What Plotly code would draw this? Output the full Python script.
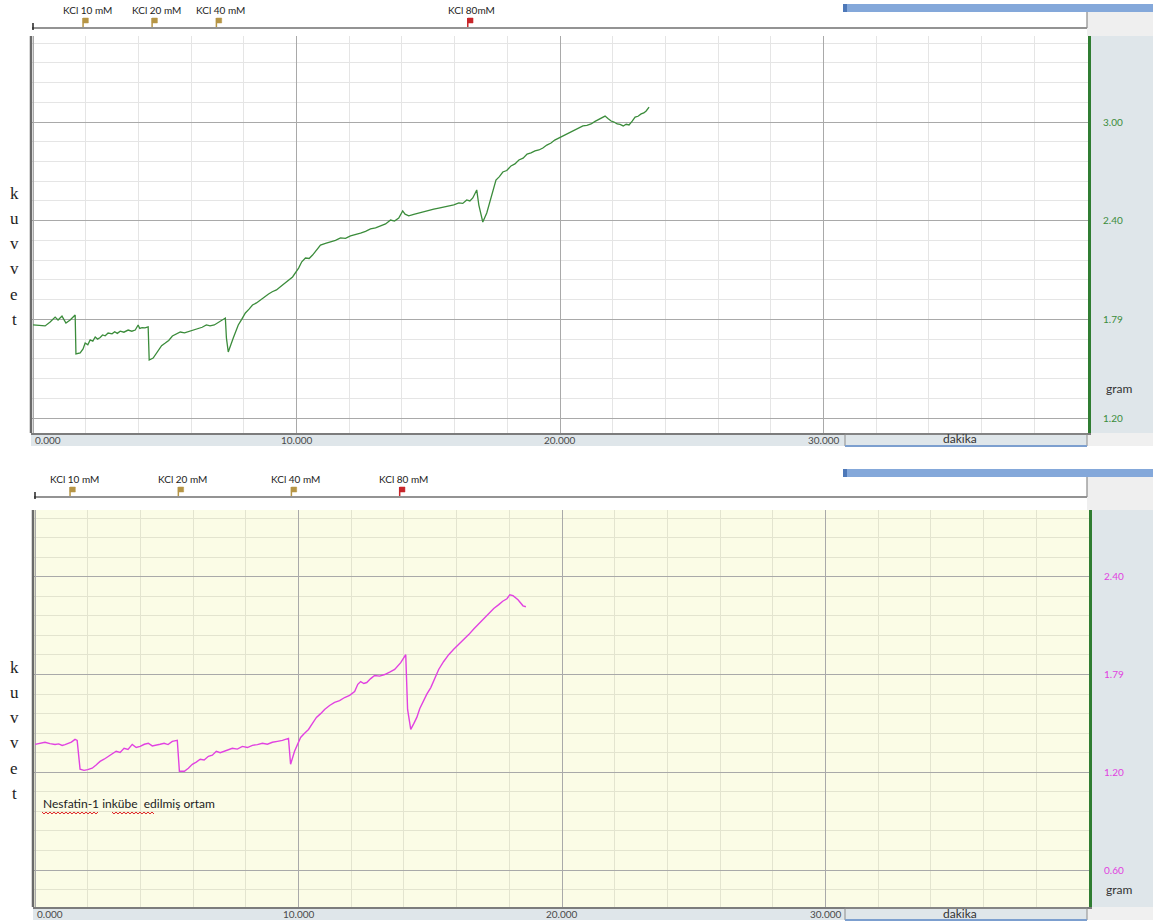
import plotly.graph_objects as go

W, H = 1153, 924


def px(x):
    return x / W


def py(y):
    return 1 - y / H


# ---------------- data ----------------
top_t = [0.00, 0.27, 0.46, 0.65, 0.84, 0.95, 1.10, 1.25, 1.41, 1.60, 1.63, 1.79, 1.90, 1.98, 2.08, 2.17,
         2.27, 2.36, 2.45, 2.55, 2.64, 2.74, 2.85, 3.00, 3.10, 3.20, 3.31, 3.45, 3.61, 3.75, 3.88, 3.99,
         4.05, 4.14, 4.25, 4.37, 4.41, 4.56, 4.66, 4.75, 4.88, 5.02, 5.15, 5.29, 5.42, 5.59, 5.75, 5.97,
         6.10, 6.27, 6.42, 6.58, 6.72, 6.88, 7.00, 7.11, 7.22, 7.30, 7.34, 7.41, 7.60, 7.79, 7.92, 8.06,
         8.20, 8.33, 8.48, 8.63, 8.78, 8.94, 9.08, 9.24, 9.40, 9.58, 9.72, 9.85, 10.08, 10.20, 10.34, 10.48,
         10.61, 10.76, 10.91, 11.10, 11.29, 11.48, 11.67, 11.86, 12.05, 12.24, 12.43, 12.62, 12.81, 13.00,
         13.19, 13.38, 13.57, 13.72, 13.88, 14.03, 14.12, 14.26, 14.45, 14.64, 14.83, 15.02, 15.21, 15.40,
         15.59, 15.78, 15.97, 16.16, 16.31, 16.46, 16.58, 16.69, 16.84, 16.92, 17.07, 17.22, 17.38, 17.48,
         17.57, 17.70, 17.83, 17.98, 18.14, 18.29, 18.44, 18.60, 18.75, 18.90, 19.05, 19.20, 19.35, 19.50,
         19.66, 19.80, 19.96, 20.12, 20.27, 20.42, 20.57, 20.72, 20.87, 21.02, 21.18, 21.33, 21.48, 21.60,
         21.71, 21.83, 21.94, 22.05, 22.17, 22.28, 22.40, 22.51, 22.62, 22.74, 22.85, 22.96, 23.08, 23.18,
         23.27, 23.38]
top_v = [1.766, 1.760, 1.760, 1.784, 1.814, 1.796, 1.820, 1.778, 1.796, 1.827, 1.590, 1.596, 1.620, 1.656,
         1.645, 1.675, 1.668, 1.693, 1.680, 1.690, 1.705, 1.700, 1.717, 1.712, 1.725, 1.715, 1.728, 1.722,
         1.735, 1.728, 1.735, 1.766, 1.745, 1.750, 1.748, 1.754, 1.553, 1.565, 1.590, 1.614, 1.640, 1.656,
         1.672, 1.699, 1.708, 1.723, 1.718, 1.729, 1.735, 1.741, 1.752, 1.766, 1.760, 1.766, 1.778, 1.784,
         1.795, 1.808, 1.687, 1.602, 1.687, 1.766, 1.800, 1.839, 1.862, 1.887, 1.900, 1.918, 1.940, 1.954,
         1.968, 1.979, 2.000, 2.021, 2.040, 2.058, 2.112, 2.150, 2.173, 2.170, 2.191, 2.225, 2.252, 2.262,
         2.270, 2.280, 2.295, 2.292, 2.307, 2.318, 2.325, 2.335, 2.350, 2.356, 2.368, 2.380, 2.404, 2.398,
         2.416, 2.459, 2.440, 2.429, 2.438, 2.447, 2.452, 2.465, 2.470, 2.477, 2.482, 2.489, 2.496, 2.508,
         2.505, 2.526, 2.520, 2.538, 2.587, 2.495, 2.392, 2.447, 2.544, 2.600, 2.647, 2.668, 2.696, 2.705,
         2.733, 2.745, 2.769, 2.780, 2.805, 2.812, 2.824, 2.830, 2.842, 2.860, 2.872, 2.890, 2.903, 2.912,
         2.927, 2.938, 2.951, 2.962, 2.976, 2.980, 2.988, 3.004, 3.018, 3.028, 3.036, 3.020, 3.006, 3.000,
         2.988, 2.985, 2.976, 2.986, 2.982, 3.005, 3.030, 3.035, 3.049, 3.055, 3.067, 3.091]

bot_t = [0.00, 0.20, 0.38, 0.57, 0.76, 0.90, 1.03, 1.14, 1.25, 1.38, 1.52, 1.60, 1.71, 1.86, 2.00, 2.17,
         2.32, 2.47, 2.62, 2.78, 2.93, 3.08, 3.23, 3.38, 3.53, 3.69, 3.84, 3.99, 4.15, 4.30, 4.45, 4.60,
         4.75, 4.90, 5.05, 5.21, 5.40, 5.48, 5.67, 5.82, 5.97, 6.12, 6.27, 6.42, 6.58, 6.73, 6.88, 7.03,
         7.19, 7.34, 7.49, 7.68, 7.87, 8.06, 8.25, 8.44, 8.63, 8.82, 9.01, 9.20, 9.39, 9.62, 9.70, 9.85,
         10.08, 10.23, 10.38, 10.53, 10.68, 10.84, 10.99, 11.18, 11.37, 11.56, 11.75, 11.94, 12.13, 12.25,
         12.36, 12.48, 12.59, 12.74, 12.89, 13.08, 13.27, 13.46, 13.65, 13.88, 14.07, 14.14, 14.26, 14.38,
         14.49, 14.60, 14.72, 14.87, 15.02, 15.17, 15.32, 15.51, 15.70, 15.89, 16.08, 16.27, 16.46, 16.65,
         16.84, 17.03, 17.22, 17.41, 17.60, 17.75, 17.91, 18.02, 18.14, 18.23, 18.33, 18.52, 18.63]
bot_v = [1.371, 1.380, 1.384, 1.376, 1.371, 1.374, 1.365, 1.370, 1.378, 1.385, 1.402, 1.396, 1.219, 1.212,
         1.216, 1.225, 1.245, 1.267, 1.280, 1.298, 1.310, 1.329, 1.322, 1.347, 1.340, 1.371, 1.352, 1.359,
         1.372, 1.378, 1.362, 1.365, 1.372, 1.378, 1.370, 1.390, 1.396, 1.206, 1.206, 1.225, 1.249, 1.262,
         1.280, 1.275, 1.298, 1.305, 1.329, 1.320, 1.329, 1.338, 1.347, 1.342, 1.359, 1.352, 1.365, 1.370,
         1.378, 1.372, 1.384, 1.390, 1.396, 1.408, 1.249, 1.329, 1.414, 1.440, 1.463, 1.500, 1.537, 1.560,
         1.586, 1.610, 1.629, 1.640, 1.659, 1.672, 1.696, 1.740, 1.757, 1.745, 1.751, 1.775, 1.794, 1.790,
         1.800, 1.815, 1.831, 1.873, 1.922, 1.586, 1.463, 1.500, 1.537, 1.590, 1.635, 1.680, 1.720, 1.780,
         1.831, 1.880, 1.922, 1.955, 1.984, 2.015, 2.045, 2.080, 2.112, 2.145, 2.179, 2.205, 2.229, 2.250,
         2.265, 2.290, 2.284, 2.272, 2.259, 2.222, 2.216]

top_event_t = [1.90, 4.52, 6.96, 16.50]
top_event_label = ["KCl 10 mM", "KCl 20 mM", "KCl 40 mM", "KCl 80mM"]
bot_event_t = [1.33, 5.44, 9.73, 13.84]
bot_event_label = ["KCl 10 mM", "KCl 20 mM", "KCl 40 mM", "KCl 80 mM"]
event_kind = ["low", "low", "low", "high"]

x_tick_vals = [0, 10, 20, 30]
x_tick_text = ["0.000", "10.000", "20.000", "30.000"]
top_y_vals = [1.2, 1.8, 2.4, 3.0]
top_y_text = ["1.20", "1.79", "2.40", "3.00"]
bot_y_vals = [0.6, 1.2, 1.8, 2.4]
bot_y_text = ["0.60", "1.20", "1.79", "2.40"]
ylabel_letters = ["k", "u", "v", "v", "e", "t"]
note_text = "Nesfatin-1 inkübe  edilmiş ortam"

# ---------------- style ----------------
GREEN = "#3b8c3b"
MAGENTA = "#e142e1"
PANEL = "#dfe6ea"
MAJOR = "#a9a9a9"
FONT = "Lato, 'Open Sans', sans-serif"

fig = go.Figure()
fig.add_trace(go.Scatter(x=top_t, y=top_v, mode="lines", line=dict(color=GREEN, width=1.3),
                         xaxis="x", yaxis="y", showlegend=False, hoverinfo="skip"))
fig.add_trace(go.Scatter(x=bot_t, y=bot_v, mode="lines", line=dict(color=MAGENTA, width=1.4),
                         xaxis="x2", yaxis="y2", showlegend=False, hoverinfo="skip"))

panels = [
    dict(xa="xaxis", ya="yaxis", xr="x", yr="y", xl=31, xrpx=1088, top=36, bot=433, zero=33,
         yrange=[1.109, 3.523], yvals=top_y_vals, ytext=top_y_text, col=GREEN, bg="#ffffff",
         minor="#e5e5e5", events=top_event_t, labels=top_event_label, bar=(8, 28), gram=388),
    dict(xa="xaxis2", ya="yaxis2", xr="x2", yr="y2", xl=33, xrpx=1089, top=510, bot=907, zero=35,
         yrange=[0.373, 2.81], yvals=bot_y_vals, ytext=bot_y_text, col=MAGENTA, bg="#fbfce6",
         minor="#e3e4cf", events=bot_event_t, labels=bot_event_label, bar=(473, 497), gram=889),
]

shapes = []
annotations = []
layout = dict(width=W, height=H, margin=dict(l=0, r=0, t=0, b=0), paper_bgcolor="white",
              plot_bgcolor="white", showlegend=False)

for p in panels:
    ppm = 26.35
    xmin = (p["xl"] - p["zero"]) / ppm
    xmax = (p["xrpx"] - p["zero"]) / ppm
    layout[p["xa"]] = dict(domain=[px(p["xl"]), px(p["xrpx"])], range=[xmin, xmax],
                           anchor=p["yr"], showticklabels=False, ticks="", tick0=0, dtick=10,
                           showgrid=True, gridcolor=MAJOR, gridwidth=1, zeroline=False,
                           showline=True, linecolor="#7c7c7c", linewidth=2,
                           minor=dict(tick0=0, dtick=2, showgrid=True, gridcolor=p["minor"], gridwidth=1))
    layout[p["ya"]] = dict(domain=[py(p["bot"]), py(p["top"])], range=p["yrange"], anchor=p["xr"],
                           side="right", tickmode="array", tickvals=p["yvals"], ticktext=p["ytext"],
                           tickfont=dict(family=FONT, size=10, color=p["col"]), ticks="",
                           ticklabelstandoff=10,
                           showgrid=True, gridcolor=MAJOR, gridwidth=1, zeroline=False,
                           showline=True, linecolor="#2f7d32", linewidth=3,
                           minor=dict(tick0=0.0, dtick=0.12,
                                      showgrid=True, gridcolor=p["minor"], gridwidth=1))
    shapes.append(dict(type="rect", xref="paper", yref="paper", layer="below",
                       x0=px(p["xl"]), x1=px(p["xrpx"]), y0=py(p["bot"]), y1=py(p["top"]),
                       fillcolor=p["bg"], line=dict(width=0)))
    shapes.append(dict(type="rect", xref="paper", yref="paper", layer="below",
                       x0=px(p["xrpx"]), x1=1, y0=py(p["bot"]), y1=py(p["top"]),
                       fillcolor=PANEL, line=dict(width=0)))
    shapes.append(dict(type="rect", xref="paper", yref="paper", layer="below",
                       x0=px(1087), x1=1, y0=py(p["top"]), y1=py(p["bar"][0] + 4),
                       fillcolor="#efefef", line=dict(width=0)))
    shapes.append(dict(type="line", xref="paper", yref="paper",
                       x0=px(p["xl"] + 1), x1=px(1087), y0=py(p["bar"][1]), y1=py(p["bar"][1]),
                       line=dict(color="#6f6f6f", width=1.5)))
    shapes.append(dict(type="line", xref="paper", yref="paper",
                       x0=px(1087), x1=px(1087), y0=py(p["bar"][1]), y1=py(p["bar"][0] + 2),
                       line=dict(color="#8a8a8a", width=1.2)))
    shapes.append(dict(type="line", xref="paper", yref="paper",
                       x0=px(p["xl"] + 2), x1=px(p["xl"] + 2), y0=py(p["bar"][1] + 2), y1=py(p["bar"][1] - 5),
                       line=dict(color="#222222", width=1.5)))
    shapes.append(dict(type="rect", xref="paper", yref="paper",
                       x0=px(843), x1=1, y0=py(p["bar"][0] + 4), y1=py(p["bar"][0] - 4),
                       fillcolor="#84a8da", line=dict(width=0)))
    shapes.append(dict(type="rect", xref="paper", yref="paper",
                       x0=px(843), x1=px(847), y0=py(p["bar"][0] + 4), y1=py(p["bar"][0] - 4),
                       fillcolor="#4d78b8", line=dict(width=0)))
    shapes.append(dict(type="line", xref="paper", yref="paper",
                       x0=px(p["xl"]), x1=px(p["xl"]), y0=py(p["bot"]), y1=py(p["top"]),
                       line=dict(color="#6a6a6a", width=2.5)))
    shapes.append(dict(type="rect", xref="paper", yref="paper", layer="below",
                       x0=px(p["xl"]), x1=px(1087), y0=py(p["bot"] + 13), y1=py(p["bot"]),
                       fillcolor=PANEL, line=dict(width=0)))
    shapes.append(dict(type="rect", xref="paper", yref="paper", layer="below",
                       x0=px(1087), x1=1, y0=py(p["bot"] + 13), y1=py(p["bot"]),
                       fillcolor="#f0f0f0", line=dict(width=0)))
    shapes.append(dict(type="rect", xref="paper", yref="paper",
                       x0=px(845), x1=px(1087), y0=py(p["bot"] + 13), y1=py(p["bot"] + 1),
                       fillcolor="rgba(0,0,0,0)", line=dict(color="#8c8c8c", width=1)))
    shapes.append(dict(type="line", xref="paper", yref="paper",
                       x0=px(845), x1=px(1087), y0=py(p["bot"] + 13), y1=py(p["bot"] + 13),
                       line=dict(color="#7c9fcf", width=2)))
    annotations.append(dict(text="dakika", xref="paper", yref="paper", x=px(960), y=py(p["bot"] + 6),
                            xanchor="center", yanchor="middle", showarrow=False,
                            font=dict(family=FONT, size=12, color="#333333")))
    for v, txt in zip(x_tick_vals, x_tick_text):
        annotations.append(dict(text=txt, xref=p["xr"], yref="paper", x=v, y=py(p["bot"] + 7),
                                xanchor="left" if v == 0 else "center", yanchor="middle",
                                showarrow=False, font=dict(family=FONT, size=10, color="#4a4a4a")))
    annotations.append(dict(text="gram", xref="paper", yref="paper", x=px(1119), y=py(p["gram"]),
                            xanchor="center", yanchor="middle", showarrow=False,
                            font=dict(family=FONT, size=12, color="#333333")))
    for i, ch in enumerate(ylabel_letters):
        annotations.append(dict(text=ch, xref="paper", yref="paper", x=px(14),
                                y=py(p["top"] + 157 + i * 25.3), xanchor="center", yanchor="middle",
                                showarrow=False,
                                font=dict(family="Liberation Serif, serif", size=17, color="#222222")))
    for t, lab, kind in zip(p["events"], p["labels"], event_kind):
        col = "#b69545" if kind == "low" else "#c8262a"
        shapes.append(dict(type="line", xref=p["xr"], yref="paper", x0=t, x1=t,
                           y0=py(p["bar"][1] - 1), y1=py(p["bar"][1] - 10),
                           line=dict(color=col, width=1.5)))
        shapes.append(dict(type="rect", xref=p["xr"], yref="paper", x0=t, x1=t + 0.2,
                           y0=py(p["bar"][1] - 5), y1=py(p["bar"][1] - 10),
                           fillcolor=col, line=dict(color=col, width=0.5)))
        annotations.append(dict(text=lab, xref=p["xr"], yref="paper", x=t, xshift=4,
                                y=py(p["bar"][1] - 18), xanchor="center", yanchor="middle",
                                showarrow=False, font=dict(family=FONT, size=10, color="#222222")))

annotations.append(dict(text=note_text, xref="paper", yref="paper", x=px(41), y=py(803),
                        xanchor="left", yanchor="middle", showarrow=False,
                        font=dict(family=FONT, size=12, color="#222222")))


def wavy(x0, x1, y):
    pts = []
    x = x0
    up = True
    while x <= x1:
        pts.append(f"{px(x):.5f},{py(y - 1 if up else y + 1):.5f}")
        up = not up
        x += 2
    return "M " + " L ".join(pts)


for a, b in [(42, 98), (112, 155)]:
    shapes.append(dict(type="path", xref="paper", yref="paper", path=wavy(a, b, 813),
                       line=dict(color="#e02828", width=1)))

layout["shapes"] = shapes
layout["annotations"] = annotations
fig.update_layout(**layout)

fig.write_html("out.html", config={"displayModeBar": False},
               post_script="document.body.style.margin='0px';document.body.style.overflow='hidden';")
